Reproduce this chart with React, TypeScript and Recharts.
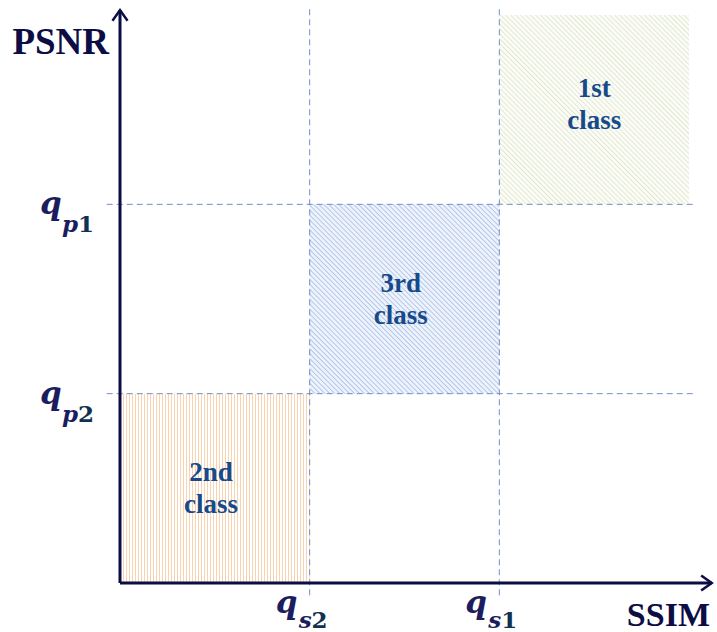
import { ComposedChart, XAxis, YAxis, ReferenceArea, ReferenceLine, Scatter } from "recharts";

// thresholds on each axis and the subscripts of their labels
const xThresholds = [1, 2];
const xThresholdSubs = ["s2", "s1"];
const yThresholds = [1, 2];
const yThresholdSubs = ["p2", "p1"];

// quality classes: name, the box they cover, where the label sits
const classNames = ["1st", "3rd", "2nd"];
const classX = [[2, 3], [1, 2], [0, 1]];
const classY = [[2, 3], [1, 2], [0, 1]];
const classLabelX = [2.5, 1.48, 0.48];
const classLabelY = [2.54, 1.51, 0.51];

const xTitle = "SSIM";
const yTitle = "PSNR";

const FILLS = ["url(#hatchGreen)", "url(#hatchBlue)", "url(#hatchOrange)"];
const AXIS = "#0d0d45";
const GRID = "#6f8fc9";
const LABEL = "#174a8a";
const QCOL = "#1b1d5e";
const SERIF = "'Liberation Serif', 'Times New Roman', serif";
const QFONT = "'DejaVu Serif', serif";

const classPoints = classNames.map((name, i) => ({
  x: classLabelX[i],
  y: classLabelY[i],
  name,
}));

const Arrow = (props: any) => {
  const { x1, y1, x2, y2 } = props;
  const a = Math.atan2(y2 - y1, x2 - x1);
  const len = 13;
  const spread = 0.62;
  const p1 = [x2 - len * Math.cos(a - spread), y2 - len * Math.sin(a - spread)];
  const p2 = [x2 - len * Math.cos(a + spread), y2 - len * Math.sin(a + spread)];
  return (
    <g>
      <line x1={x1} y1={y1} x2={x2} y2={y2} stroke={AXIS} strokeWidth={3} />
      <polyline
        points={`${p1[0]},${p1[1]} ${x2},${y2} ${p2[0]},${p2[1]}`}
        fill="none"
        stroke={AXIS}
        strokeWidth={2.5}
      />
    </g>
  );
};

const SubText = ({ x, y, sub }: { x: number; y: number; sub: string }) => (
  <text x={x} y={y} fontFamily={QFONT} fontWeight="bold" fill={QCOL} fontSize={23}>
    <tspan fontStyle="italic">{sub[0]}</tspan>
    <tspan fontStyle="normal" fill="#10324f">{sub.slice(1)}</tspan>
  </text>
);

const XTick = ({ x, y, payload }: any) => {
  const sub = xThresholdSubs[xThresholds.indexOf(payload.value)];
  return (
    <g>
      <text x={x - 34} y={y + 30} fontFamily={QFONT} fontStyle="italic" fontWeight="bold" fontSize={31} fill={QCOL}>
        q
      </text>
      <SubText x={x - 11} y={y + 45} sub={sub} />
    </g>
  );
};

const YTick = ({ x, y, payload }: any) => {
  const sub = yThresholdSubs[yThresholds.indexOf(payload.value)];
  return (
    <g>
      <text x={x - 80} y={y + 10} fontFamily={QFONT} fontStyle="italic" fontWeight="bold" fontSize={31} fill={QCOL}>
        q
      </text>
      <SubText x={x - 58} y={y + 28} sub={sub} />
    </g>
  );
};

const ClassLabel = (props: any) => {
  const { cx, cy, payload } = props;
  return (
    <text textAnchor="middle" fontFamily={SERIF} fontWeight="bold" fontSize={27} fill={LABEL}>
      <tspan x={cx} y={cy - 5}>{payload.name}</tspan>
      <tspan x={cx} y={cy + 26.5}>class</tspan>
    </text>
  );
};

export default function App() {
  return (
    <div style={{ position: "absolute", left: 0, top: 0, background: "#fff" }}>
      <ComposedChart width={717} height={632} data={classPoints} margin={{ top: 15, right: 28, bottom: 0, left: 0 }}>
        <defs>
          <pattern id="hatchGreen" width="3.5" height="3.5" patternUnits="userSpaceOnUse" patternTransform="rotate(-45)">
            <rect width="3.5" height="3.5" fill="#fbfcf7" />
            <line x1="0" y1="0" x2="0" y2="3.5" stroke="#d9e4c2" strokeWidth="1.4" />
          </pattern>
          <pattern id="hatchBlue" width="3.5" height="3.5" patternUnits="userSpaceOnUse" patternTransform="rotate(-45)">
            <rect width="3.5" height="3.5" fill="#edf2fb" />
            <line x1="0" y1="0" x2="0" y2="3.5" stroke="#a4bde6" strokeWidth="1.5" />
          </pattern>
          <pattern id="hatchOrange" width="3" height="3" patternUnits="userSpaceOnUse">
            <rect width="3" height="3" fill="#fff" />
            <line x1="0.5" y1="0" x2="0.5" y2="3" stroke="#f9d3b0" strokeWidth="1" />
          </pattern>
        </defs>
        <XAxis
          type="number"
          dataKey="x"
          domain={[0, 3]}
          allowDataOverflow
          ticks={xThresholds}
          interval={0}
          height={49}
          axisLine={false}
          tickLine={false}
          tickSize={0}
          tickMargin={0}
          tick={<XTick />}
          label={{
            content: ({ viewBox }: any) => (
              <text
                x={viewBox.x + viewBox.width + 21}
                y={viewBox.y + 43}
                textAnchor="end"
                fontFamily={SERIF}
                fontWeight="bold"
                fontSize={34}
                fill={AXIS}
              >
                {xTitle}
              </text>
            ),
          }}
        />
        <YAxis
          type="number"
          dataKey="y"
          domain={[0, 3]}
          allowDataOverflow
          ticks={yThresholds}
          interval={0}
          width={120}
          axisLine={false}
          tickLine={false}
          tickSize={0}
          tickMargin={0}
          tick={<YTick />}
          label={{
            content: ({ viewBox }: any) => (
              <text
                x={viewBox.x + viewBox.width - 11}
                y={viewBox.y + 39}
                textAnchor="end"
                fontFamily={SERIF}
                fontWeight="bold"
                fontSize={37}
                fill={AXIS}
              >
                {yTitle}
              </text>
            ),
          }}
        />
        {classNames.map((name, i) => (
          <ReferenceArea
            key={name}
            x1={classX[i][0]}
            x2={classX[i][1]}
            y1={classY[i][0]}
            y2={classY[i][1]}
            fill={FILLS[i]}
            fillOpacity={1}
            stroke="none"
            ifOverflow="visible"
          />
        ))}
        {xThresholds.map((v) => (
          <ReferenceLine
            key={`vx${v}`}
            segment={[{ x: v, y: -0.065 }, { x: v, y: 3.05 }]}
            stroke={GRID}
            strokeWidth={1}
            strokeDasharray="6 4"
            ifOverflow="visible"
          />
        ))}
        {yThresholds.map((v) => (
          <ReferenceLine
            key={`hy${v}`}
            segment={[{ x: -0.07, y: v }, { x: 3.04, y: v }]}
            stroke={GRID}
            strokeWidth={1}
            strokeDasharray="6 4"
            ifOverflow="visible"
          />
        ))}
        <ReferenceLine segment={[{ x: 0, y: 0 }, { x: 3.12, y: 0 }]} ifOverflow="visible" shape={Arrow} />
        <ReferenceLine segment={[{ x: 0, y: 0 }, { x: 0, y: 3.026 }]} ifOverflow="visible" shape={Arrow} />
        <Scatter dataKey="y" shape={ClassLabel} isAnimationActive={false} />
      </ComposedChart>
    </div>
  );
}
